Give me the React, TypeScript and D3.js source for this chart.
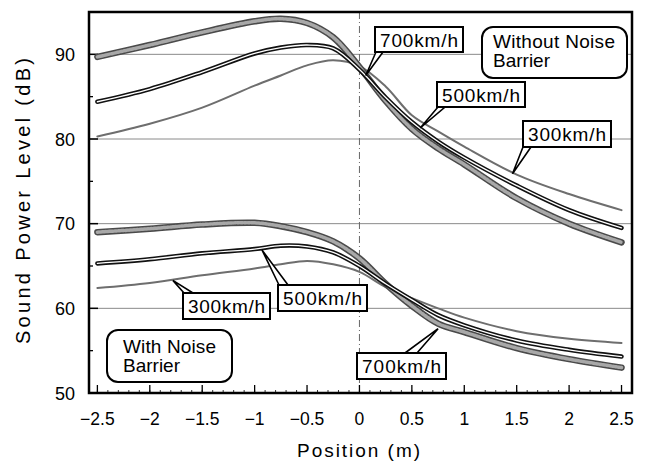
import * as d3 from 'd3'

const POSITIONS = [-2.5, -2.0, -1.5, -1.0, -0.75, -0.5, -0.25, 0, 0.25, 0.5, 0.75, 1.0, 1.5, 2.0, 2.5]

// Without noise barrier (dB)
const FREE_700 = [89.7, 91.1, 92.6, 93.9, 94.2, 93.7, 92.0, 88.5, 84.5, 81.2, 78.9, 77.0, 73.0, 70.0, 67.8]
const FREE_500 = [84.4, 85.9, 87.9, 90.1, 90.8, 91.1, 90.7, 88.2, 84.9, 82.0, 79.7, 77.8, 74.5, 71.6, 69.5]
const FREE_300 = [80.3, 81.8, 83.7, 86.3, 87.5, 88.7, 89.3, 88.6, 86.2, 82.8, 80.9, 79.1, 75.8, 73.5, 71.6]

// With noise barrier (dB)
const BARRIER_700 = [69.0, 69.4, 69.9, 70.1, 69.7, 69.0, 67.9, 65.9, 62.9, 60.3, 58.2, 57.2, 55.3, 54.0, 53.0]
const BARRIER_500 = [65.3, 65.8, 66.5, 67.0, 67.4, 67.3, 66.6, 65.0, 62.9, 61.0, 59.2, 58.0, 56.2, 55.1, 54.3]
const BARRIER_300 = [62.4, 63.0, 63.9, 64.7, 65.2, 65.6, 65.2, 64.3, 62.5, 61.2, 60.0, 58.9, 57.3, 56.4, 55.9]

const X_TICKS = [-2.5, -2, -1.5, -1, -0.5, 0, 0.5, 1, 1.5, 2, 2.5]
const Y_TICKS = [50, 60, 70, 80, 90]

// speed callouts: text, tip on curve (data coords), box rect in px
const CALLOUTS = [
  { text: '700km/h', tip: [0.06, 87.5], box: [375, 27, 88, 25], base: [376, 383] },
  { text: '500km/h', tip: [0.58, 81.3], box: [437, 82, 88, 25], base: [438, 445] },
  { text: '300km/h', tip: [1.46, 75.9], box: [523, 121, 88, 26], base: [523, 531] },
  { text: '300km/h', tip: [-1.78, 63.3], box: [183, 293, 87, 26], base: [184, 193] },
  { text: '500km/h', tip: [-0.93, 66.9], box: [278, 285, 89, 26], base: [279, 288] },
  { text: '700km/h', tip: [0.75, 57.6], box: [357, 353, 89, 26], base: [405, 417] },
]

const FONT = '"Liberation Sans", Arial, sans-serif'

type Style = 'thick' | 'double' | 'thin'

function Curve({ d, style }: { d: string; style: Style }) {
  if (style === 'thick') {
    return (
      <g fill="none" strokeLinecap="round" strokeLinejoin="round">
        <path d={d} stroke="#4a4a4a" strokeWidth={6.5} />
        <path d={d} stroke="#a8a8a8" strokeWidth={3.5} strokeDasharray="2,1.5" />
      </g>
    )
  }
  if (style === 'double') {
    return (
      <g fill="none" strokeLinecap="round" strokeLinejoin="round">
        <path d={d} stroke="#111" strokeWidth={4.5} />
        <path d={d} stroke="#fff" strokeWidth={1.3} />
      </g>
    )
  }
  return <path d={d} fill="none" stroke="#6e6e6e" strokeWidth={2} strokeLinecap="round" />
}

export default function App() {
  const W = 645
  const H = 463
  const left = 89, right = 632, top = 12, bottom = 393

  const x = d3.scaleLinear().domain([-2.58, 2.6]).range([left, right])
  const y = d3.scaleLinear().domain([50, 95]).range([bottom, top])

  const line = (vals: number[]) =>
    d3.line<number>()
      .x((_, i) => x(POSITIONS[i]))
      .y(v => y(v))
      .curve(d3.curveCatmullRom.alpha(0.5))(vals) || ''

  const series: { vals: number[]; style: Style }[] = [
    { vals: FREE_300, style: 'thin' },
    { vals: FREE_700, style: 'thick' },
    { vals: FREE_500, style: 'double' },
    { vals: BARRIER_300, style: 'thin' },
    { vals: BARRIER_700, style: 'thick' },
    { vals: BARRIER_500, style: 'double' },
  ]

  const minorX = d3.range(-25, 26).map(i => i / 10)
  const minorY = [55, 65, 75, 85]

  return (
    <div style={{ position: 'absolute', left: 0, top: 0 }}>
      <svg width={W} height={H} style={{ display: 'block', background: '#fff' }}>
        {/* grid */}
        {[60, 70, 80, 90].map(v => (
          <line key={v} x1={left} x2={right} y1={y(v)} y2={y(v)} stroke="#8a8a8a" strokeWidth={1} />
        ))}
        <line x1={x(0)} x2={x(0)} y1={top} y2={bottom} stroke="#666" strokeWidth={1} strokeDasharray="7,3,1,3" />

        {/* ticks */}
        {minorX.map(v => (
          <line key={'mx' + v} x1={x(v)} x2={x(v)} y1={bottom} y2={bottom - 3} stroke="#333" strokeWidth={1} />
        ))}
        {X_TICKS.map(v => (
          <line key={'tx' + v} x1={x(v)} x2={x(v)} y1={bottom} y2={bottom - 8} stroke="#000" strokeWidth={1.3} />
        ))}
        {minorY.map(v => (
          <line key={'my' + v} x1={left} x2={left + 4} y1={y(v)} y2={y(v)} stroke="#000" strokeWidth={1.3} />
        ))}
        {[60, 70, 80, 90].map(v => (
          <line key={'ty' + v} x1={left} x2={left + 9} y1={y(v)} y2={y(v)} stroke="#000" strokeWidth={1.5} />
        ))}

        {/* curves */}
        {series.map((s, i) => (
          <Curve key={i} d={line(s.vals)} style={s.style} />
        ))}

        {/* frame */}
        <rect x={left} y={top} width={right - left} height={bottom - top} fill="none" stroke="#000" strokeWidth={2.5} />

        {/* tick labels */}
        {X_TICKS.map(v => (
          <text key={'lx' + v} x={x(v)} y={425} textAnchor="middle" fontFamily={FONT} fontSize={17.5} fill="#000">
            {v < 0 ? '\u2212' + Math.abs(v) : String(v)}
          </text>
        ))}
        {Y_TICKS.map(v => (
          <text key={'ly' + v} x={75} y={y(v) + 6.5} textAnchor="end" fontFamily={FONT} fontSize={18} fill="#000">
            {v}
          </text>
        ))}

        {/* axis titles */}
        <text x={297} y={457} textLength={123} lengthAdjust="spacing" fontFamily={FONT} fontSize={19} fill="#000">
          Position (m)
        </text>
        <text transform="translate(30, 344) rotate(-90)" textLength={286} lengthAdjust="spacing" fontFamily={FONT} fontSize={20} fill="#000">
          Sound Power Level (dB)
        </text>

        {/* group labels */}
        <g>
          <rect x={482} y={27} width={145} height={51} rx={11} fill="#fff" stroke="#000" strokeWidth={2} />
          <text x={493} y={48} textLength={122} lengthAdjust="spacing" fontFamily={FONT} fontSize={19} fill="#000">Without Noise</text>
          <text x={493} y={67} fontFamily={FONT} fontSize={19} fill="#000">Barrier</text>
        </g>
        <g>
          <rect x={107} y={330} width={125} height={52} rx={11} fill="#fff" stroke="#000" strokeWidth={2} />
          <text x={123} y={353} textLength={93} lengthAdjust="spacing" fontFamily={FONT} fontSize={19} fill="#000">With Noise</text>
          <text x={123} y={372} fontFamily={FONT} fontSize={19} fill="#000">Barrier</text>
        </g>

        {/* speed callouts */}
        {CALLOUTS.map((c, i) => {
          const [bx, by, bw, bh] = c.box
          const tx = x(c.tip[0])
          const ty = y(c.tip[1])
          const baseY = ty < by ? by : by + bh
          return (
            <g key={i}>
              <polygon
                points={`${c.base[0]},${baseY} ${tx},${ty} ${c.base[1]},${baseY}`}
                fill="#fff" stroke="#000" strokeWidth={1.6} strokeLinejoin="miter"
              />
              <rect x={bx} y={by} width={bw} height={bh} fill="#fff" stroke="#000" strokeWidth={2} />
              <text x={bx + 5} y={by + bh / 2 + 7} textLength={bw - 10} lengthAdjust="spacing" fontFamily={FONT} fontSize={19} fill="#000">
                {c.text}
              </text>
            </g>
          )
        })}
      </svg>
    </div>
  )
}
